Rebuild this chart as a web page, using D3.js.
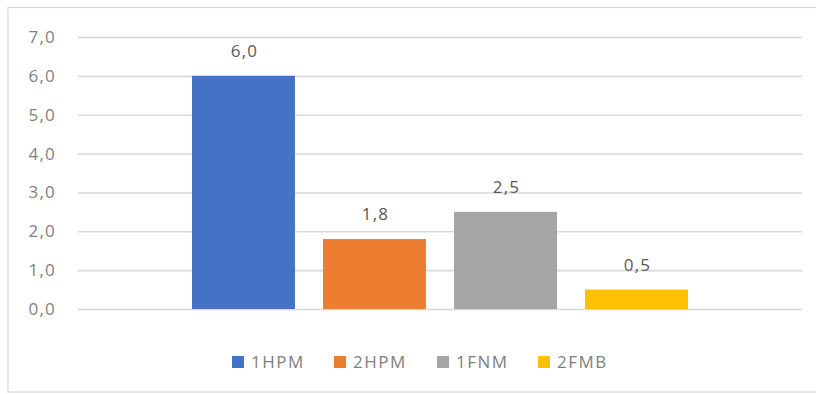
<!DOCTYPE html>
<html>
<head>
<meta charset="utf-8">
<script src="https://cdn.jsdelivr.net/npm/d3@7"></script>
<style>
  html, body { margin: 0; padding: 0; background: #fff; }
  svg { display: block; }
  text { font-family: "Open Sans", "DejaVu Sans", sans-serif; }
</style>
</head>
<body>
<svg id="chart" width="816" height="394"></svg>
<script>
// Series shown as a single cluster of four bars
const seriesNames = ["1HPM", "2HPM", "1FNM", "2FMB"];
const seriesValues = [6.0, 1.8, 2.5, 0.5];
const seriesColors = ["#4472C4", "#ED7D31", "#A5A5A5", "#FFC000"];
const yTicks = [0, 1, 2, 3, 4, 5, 6, 7];

const W = 816, H = 394;
const plot = { left: 78, right: 802, top: 37, bottom: 309 };

const svg = d3.select("#chart");
const fmt = v => d3.format(".1f")(v).replace(".", ",");

// Chart frame
svg.append("rect")
  .attr("x", 8).attr("y", 7.5)
  .attr("width", 830).attr("height", 384.5)
  .attr("fill", "#fff")
  .attr("stroke", "#d9d9d9").attr("stroke-width", 1.2);

const y = d3.scaleLinear().domain([0, 7]).range([plot.bottom, plot.top]);
const x = d3.scaleBand()
  .domain(seriesNames)
  .range([plot.left, plot.right])
  .paddingInner(0.214)
  .paddingOuter(0.87);

// Horizontal gridlines + value axis labels
const yAxis = d3.axisLeft(y)
  .tickValues(yTicks)
  .tickSize(-(plot.right - plot.left))
  .tickPadding(22)
  .tickFormat(fmt);

const gAxis = svg.append("g")
  .attr("transform", `translate(${plot.left},0)`)
  .call(yAxis);
gAxis.select(".domain").remove();
gAxis.selectAll(".tick line")
  .attr("stroke", "#d9d9d9").attr("stroke-width", 1.6);
gAxis.selectAll(".tick text")
  .attr("fill", "#7f7f7f")
  .attr("font-size", 17)
  .attr("letter-spacing", "1.2px");

// Bars
svg.append("g").selectAll("rect")
  .data(seriesNames)
  .join("rect")
  .attr("x", d => x(d))
  .attr("y", (d, i) => y(seriesValues[i]))
  .attr("width", x.bandwidth())
  .attr("height", (d, i) => y(0) - y(seriesValues[i]))
  .attr("fill", (d, i) => seriesColors[i]);

// Data labels above bars
svg.append("g").selectAll("text")
  .data(seriesNames)
  .join("text")
  .attr("x", d => x(d) + x.bandwidth() / 2 + 1)
  .attr("y", (d, i) => y(seriesValues[i]) - 19)
  .attr("text-anchor", "middle")
  .attr("fill", "#595959")
  .attr("font-size", 17)
  .attr("letter-spacing", "1.2px")
  .text((d, i) => fmt(seriesValues[i]));

// Legend
const legendY = 362;
const legendX = [232, 334, 437, 538];
const lg = svg.append("g").selectAll("g")
  .data(seriesNames)
  .join("g")
  .attr("transform", (d, i) => `translate(${legendX[i]},${legendY})`);
lg.append("rect")
  .attr("x", 0).attr("y", -6)
  .attr("width", 12).attr("height", 12)
  .attr("fill", (d, i) => seriesColors[i]);
lg.append("text")
  .attr("x", 19).attr("y", 6)
  .attr("fill", "#7f7f7f")
  .attr("font-size", 17)
  .attr("letter-spacing", "1.5px")
  .text(d => d);
</script>
</body>
</html>
